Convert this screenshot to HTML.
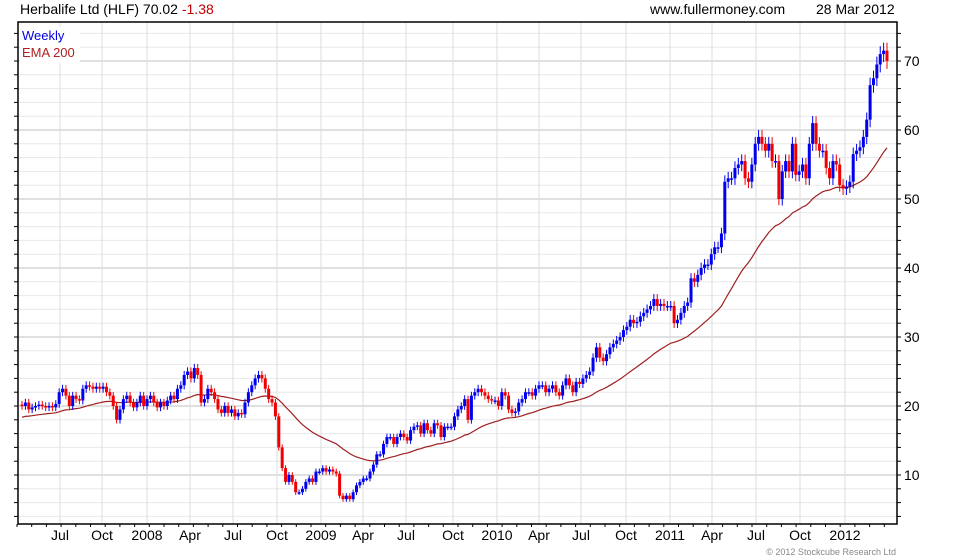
<!DOCTYPE html>
<html><head><meta charset="utf-8"><style>
body{margin:0;background:#fff;font-family:"Liberation Sans",sans-serif}
svg{display:block}
</style></head><body>
<svg id="c" width="980" height="560" xmlns="http://www.w3.org/2000/svg">
<text x="20" y="14" font-size="14" fill="#000">Herbalife Ltd (HLF) 70.02 <tspan fill="#c00000">-1.38</tspan></text>
<text x="650" y="14" font-size="14" fill="#000">www.fullermoney.com</text>
<text x="816" y="14" font-size="14" fill="#000">28 Mar 2012</text>
<text x="896" y="555" font-size="9" fill="#888" text-anchor="end">© 2012 Stockcube Research Ltd</text>
<g id="grid"></g><g id="marks"></g>
<rect x="20" y="27" width="60" height="36" fill="#fff"/>
<text x="22" y="40" font-size="13" fill="#0000e0">Weekly</text>
<text x="22" y="57" font-size="13" fill="#b02020">EMA 200</text>
</svg>
<script>
const closes=[20,20.5,19.5,19.8,20,20.2,20,19.8,20,19.8,20.3,
22,22.5,21.5,20,21.5,21,20.8,22.5,23,22.8,22.5,22.8,
22.5,22.8,22,21.5,20,18,19.5,21,21.5,20.5,19.8,20.5,21.5,
20,21,21.5,20.5,19.8,20.5,20,20.8,21.5,21,22.5,23,24.5,
25,24,25.5,24.5,20.5,21,22.5,22,21,19.5,19,20,19,
19.5,18.5,19,18.8,20.5,22,23,24,24.5,24,22.5,21,20.5,
18.5,14,11,9,10,9,7.5,7.5,8,9,9.5,9,10.5,
10.5,11,10.5,10.8,10.5,10.2,7,6.5,7,6.5,7.5,8.5,9,
9.5,9.5,10.5,11.5,13,13,14.5,15.5,15.5,14.5,15.5,16,15.5,
15,16.5,17,17.2,16,17.5,16.5,16,17.5,17.2,15.5,17,17,17,
18.5,19.5,20,21,18,21.5,22,22.5,22,21.5,21,20.8,20.8,
20,22,21.5,19.5,19,19.2,20.5,21,22,22,21.5,22.5,23,
23,22,22.5,23,22,21.5,23,24,23,22,23.5,23.2,24,
24.5,25,27,28.5,27,26.5,27.5,28.5,29,29.5,30,31,31.5,
32.5,32,32.2,33,33.5,34,34.5,35.5,34.5,34.8,34.5,34.5,34.5,
32,32.5,33.5,34.5,35,38.5,38,39,40,40.5,40.5,42,43,
43,45,52.5,53,53,54.5,55,55.5,53,52.5,55,58,59,
58,57,58,55.5,55.5,50,54,55.5,54,58,53.5,54,55,
53,58,61,58,57,57,54.5,53,55.5,55,52,51.5,51.8,
52.5,56.5,57,57.5,59,61.5,66.5,67.5,69.5,71,71.5,70];
const opens=[20.2].concat(closes.slice(0,-1));
const yTicks=[10,20,30,40,50,60,70];
const xLabels=["Jul","Oct","2008","Apr","Jul","Oct","2009","Apr","Jul","Oct","2010","Apr","Jul","Oct","2011","Apr","Jul","Oct","2012"];
const xLabelPos=[60,102,147,190,233,277,321,363,406,453,497,539,581,626,670,712,756,800,845];
const emaSeed=18.3, emaPeriodWeeks=40;

const NS="http://www.w3.org/2000/svg";
const L=18,R=897,T=22,B=524;
const y=p=>544-6.9*p;
const n=closes.length;
const x=i=>22+i*(865/(n-1));
function mk(tag,at,parent){const e=document.createElementNS(NS,tag);for(const k in at)e.setAttribute(k,at[k]);parent.appendChild(e);return e;}
const grid=document.getElementById('grid'),marks=document.getElementById('marks');
for(let p=4;p<=74;p+=2){const yy=y(p);if(yy<T||yy>B)continue;
 const l=mk('line',{x1:L,x2:R,y1:yy,y2:yy,stroke:p%10===0?'#c0c0c0':'#e8e8e8','stroke-width':1},grid);
 
 
 mk('line',{x1:R,x2:R+4,y1:yy,y2:yy,stroke:'#000'},grid);
 mk('line',{x1:L-4,x2:L,y1:yy,y2:yy,stroke:'#000'},grid);}
yTicks.forEach(v=>{const t=mk('text',{x:904,y:y(v)+5,'font-size':14,fill:'#000'},grid);t.textContent=v;
 
 });
xLabels.forEach((s,i)=>{const xx=xLabelPos[i];
 const l=mk('line',{x1:xx,x2:xx,y1:T,y2:B,stroke:'#dcdcdc'},grid);
 
 
 const t=mk('text',{x:xx,y:540,'font-size':14,fill:'#000','text-anchor':'middle'},grid);t.textContent=s;
 
 });
for(let xx=17;xx<R;xx+=14.7)mk('line',{x1:xx,x2:xx,y1:B,y2:B+3,stroke:'#000'},grid);
mk('rect',{x:L,y:T,width:R-L,height:B-T,fill:'none',stroke:'#000','stroke-width':1.5},grid);
let e=emaSeed,a=2/(emaPeriodWeeks+1),pts=[];
closes.forEach((c,i)=>{e=e+a*(c-e);pts.push(x(i).toFixed(1)+','+y(e).toFixed(1));});
const em=mk('polyline',{points:pts.join(' '),fill:'none',stroke:'#a02020','stroke-width':1.2},marks);


closes.forEach((c,i)=>{const o=opens[i],up=c>=o,col=up?'#0000f0':'#f00000';
 const w=0.3+0.012*c;
 const hi=Math.max(o,c)+w,lo=Math.min(o,c)-w,xx=x(i);
 const g=mk('g',{},marks);
 
 
 mk('line',{x1:xx,x2:xx,y1:y(hi),y2:y(lo),stroke:col,'stroke-width':1},g);
 const top=y(Math.max(o,c)),h=Math.max(1.5,y(Math.min(o,c))-top);
 mk('rect',{x:xx-1.5,y:top,width:3,height:h,fill:col},g);});
</script>
</body></html>
